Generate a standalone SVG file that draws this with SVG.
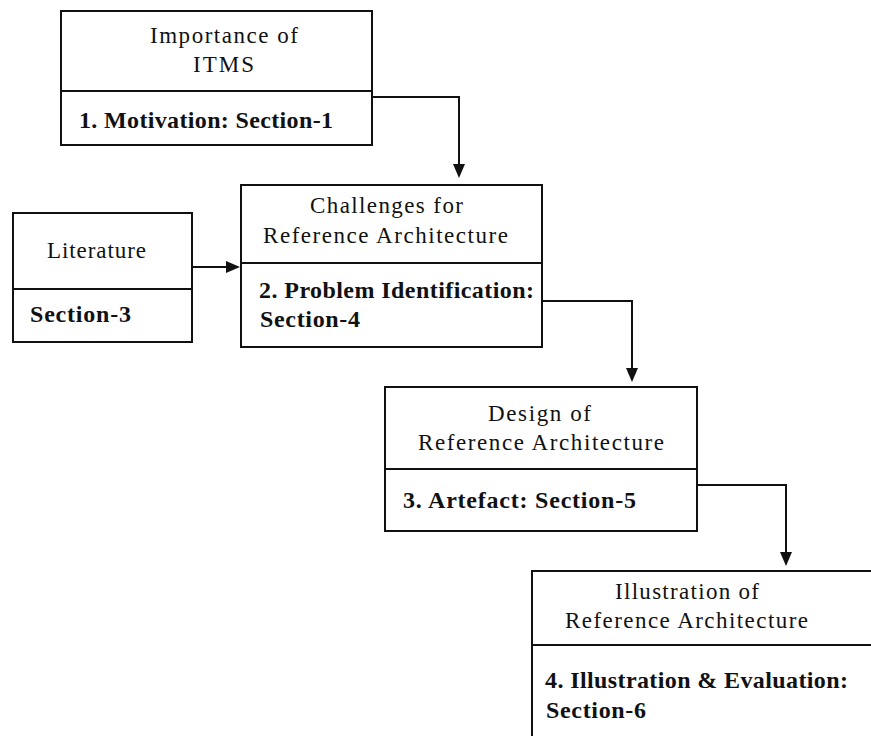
<svg xmlns="http://www.w3.org/2000/svg" width="871" height="736" viewBox="0 0 871 736">
<defs>
<style>
.box{fill:#fff;stroke:#111;stroke-width:2}
.div{stroke:#111;stroke-width:2}
.t{font-family:"Liberation Serif","Times New Roman",serif;font-size:23px;fill:#111}
.b{font-family:"Liberation Serif","Times New Roman",serif;font-size:24px;font-weight:bold;fill:#111}
.conn{fill:none;stroke:#111;stroke-width:2}
</style>
<marker id="ah" viewBox="0 0 14 12" refX="10" refY="6" markerWidth="14" markerHeight="12" markerUnits="userSpaceOnUse" orient="auto">
<path d="M0,0 L14,6 L0,12 z" fill="#111"/>
</marker>
</defs>
<rect width="871" height="736" fill="#fff"/>
<g id="n1">
<rect class="box" x="61" y="11" width="311" height="134"/>
<line class="div" x1="61" y1="91" x2="372" y2="91"/>
<text class="t" x="150" y="43" textLength="148" lengthAdjust="spacing">Importance of</text>
<text class="t" x="193" y="72" textLength="61" lengthAdjust="spacing">ITMS</text>
<text class="b" x="79" y="128" textLength="254" lengthAdjust="spacing">1. Motivation: Section-1</text>
</g>
<g id="n_lit">
<rect class="box" x="13" y="213" width="179" height="129"/>
<line class="div" x1="13" y1="289" x2="192" y2="289"/>
<text class="t" x="47" y="258" textLength="99" lengthAdjust="spacing">Literature</text>
<text class="b" x="30" y="322" textLength="101" lengthAdjust="spacing">Section-3</text>
</g>
<g id="n2">
<rect class="box" x="241" y="185" width="301" height="162"/>
<line class="div" x1="241" y1="263" x2="542" y2="263"/>
<text class="t" x="310" y="213" textLength="153" lengthAdjust="spacing">Challenges for</text>
<text class="t" x="263" y="243" textLength="245" lengthAdjust="spacing">Reference Architecture</text>
<text class="b" x="259" y="298" textLength="275" lengthAdjust="spacing">2. Problem Identification:</text>
<text class="b" x="260" y="327" textLength="100" lengthAdjust="spacing">Section-4</text>
</g>
<g id="n3">
<rect class="box" x="385" y="387" width="312" height="144"/>
<line class="div" x1="385" y1="469" x2="697" y2="469"/>
<text class="t" x="488" y="421" textLength="103" lengthAdjust="spacing">Design of</text>
<text class="t" x="418" y="450" textLength="246" lengthAdjust="spacing">Reference Architecture</text>
<text class="b" x="403" y="508" textLength="233" lengthAdjust="spacing">3. Artefact: Section-5</text>
</g>
<g id="n4">
<rect class="box" x="532" y="571" width="360" height="200"/>
<line class="div" x1="532" y1="645" x2="892" y2="645"/>
<text class="t" x="615" y="599" textLength="144" lengthAdjust="spacing">Illustration of</text>
<text class="t" x="565" y="628" textLength="243" lengthAdjust="spacing">Reference Architecture</text>
<text class="b" x="545" y="688" textLength="303" lengthAdjust="spacing">4. Illustration &amp; Evaluation:</text>
<text class="b" x="546" y="718" textLength="100" lengthAdjust="spacing">Section-6</text>
</g>
<g id="connectors">
<path class="conn" d="M372,97 H459 V174" marker-end="url(#ah)"/>
<path class="conn" d="M192,267 H236" marker-end="url(#ah)"/>
<path class="conn" d="M542,301 H632 V378" marker-end="url(#ah)"/>
<path class="conn" d="M697,485 H786 V562" marker-end="url(#ah)"/>
</g>
</svg>
